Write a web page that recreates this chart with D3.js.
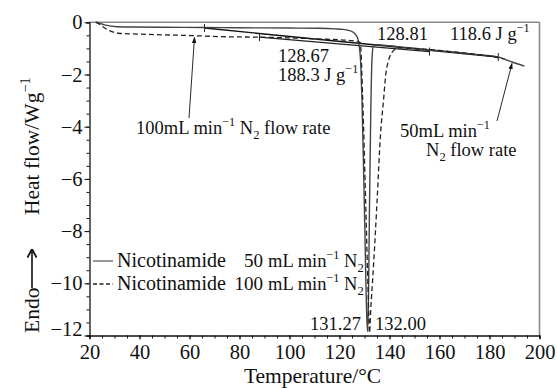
<!DOCTYPE html>
<html><head><meta charset="utf-8">
<script src="https://cdn.jsdelivr.net/npm/d3@7"></script>
<style>
html,body{margin:0;padding:0;background:#fff;}
svg text{font-family:"Liberation Serif","Times New Roman",serif;fill:#111;}
</style></head>
<body><svg id="c" width="557" height="388"></svg>
<script>
// ---- data ----
const xTicks = [20,40,60,80,100,120,140,160,180,200];
const yTicks = [0,-2,-4,-6,-8,-10,-12];
// 50 mL/min N2 (solid)
const solidT = [22.5,23.5,26,31,38,50,66,80,100,112,118,122,124,125.5,126.5,127.3,127.8,128.5,129,130,131,131.27,131.6,132,132.5,133,133.5,135,140,145,155,160,170,177,183.5,189,194];
const solidV = [0,-0.02,-0.1,-0.17,-0.18,-0.19,-0.2,-0.21,-0.22,-0.23,-0.25,-0.28,-0.32,-0.38,-0.48,-0.62,-0.85,-1.6,-3,-7.3,-11.5,-11.85,-10.5,-7,-3.5,-1.4,-0.92,-0.86,-0.9,-0.95,-1.05,-1.09,-1.18,-1.25,-1.33,-1.52,-1.68];
// 100 mL/min N2 (dashed)
const dashT = [22.5,23.5,25,28,31.5,42,61,73,88,100,115,125,128.3,129.3,130.5,131.5,132,132.5,133.5,135,136.4,137.6,138.5,139.5,141,143,145,150,160,170,180,186];
const dashV = [0,-0.04,-0.15,-0.32,-0.42,-0.46,-0.51,-0.55,-0.57,-0.6,-0.65,-0.7,-0.78,-3,-7,-10.5,-11.9,-11,-9.5,-6.9,-4.3,-3,-2.0,-1.5,-1.15,-1.0,-0.98,-1.0,-1.08,-1.18,-1.3,-1.4];
// integration baselines
const base50T = [66,183.5], base50V = [-0.22,-1.33];
const base100T = [88,156], base100V = [-0.57,-1.12];

// ---- chart ----
const svg = d3.select("#c");
const x = d3.scaleLinear().domain([20,200]).range([89.5,539.5]);
const y = d3.scaleLinear().domain([0,-12]).range([22.3,335.5]);

// frame
svg.append("line").attr("x1",x(20)).attr("x2",x(200)).attr("y1",y(0)).attr("y2",y(0)).attr("stroke","#8a8a8a").attr("stroke-width",1.6);
svg.append("line").attr("x1",x(200)).attr("x2",x(200)).attr("y1",y(0)).attr("y2",y(-12)).attr("stroke","#8a8a8a").attr("stroke-width",1.6);

// axes
const xMinor = d3.range(20,201,5);
const yMinor = d3.range(0,-12.01,-0.5);
const gx = svg.append("g").attr("transform",`translate(0,${y(-12)})`);
gx.call(d3.axisBottom(x).tickValues(xMinor).tickSize(3).tickFormat(""));
gx.selectAll(".tick line").attr("stroke","#111");
gx.select(".domain").attr("stroke","#111").attr("stroke-width",1.3);
const gx2 = svg.append("g").attr("transform",`translate(0,${y(-12)})`);
gx2.call(d3.axisBottom(x).tickValues(xTicks).tickSize(4).tickPadding(5).tickFormat(d3.format("d")));
gx2.select(".domain").remove();
gx2.selectAll(".tick line").attr("stroke","#111");
gx2.selectAll("text").attr("font-size",20.5).attr("font-family","Liberation Serif").attr("fill","#111");

const gy = svg.append("g").attr("transform",`translate(${x(20)},0)`);
gy.call(d3.axisLeft(y).tickValues(yMinor).tickSize(3).tickFormat(""));
gy.select(".domain").attr("stroke","#111").attr("stroke-width",1.3);
gy.selectAll(".tick line").attr("stroke","#111");
const gy2 = svg.append("g").attr("transform",`translate(${x(20)},0)`);
gy2.call(d3.axisLeft(y).tickValues(yTicks).tickSize(5).tickPadding(2).tickFormat(d=>d===0?"0":"\u2212"+Math.abs(d)));
gy2.select(".domain").remove();
gy2.selectAll(".tick line").attr("stroke","#111");
gy2.selectAll("text").attr("font-size",20.5).attr("font-family","Liberation Serif").attr("fill","#111")
  .attr("dy",d=>d===-12?"0.02em":"0.32em");

// curves
const line = d3.line().x(d=>x(d[0])).y(d=>y(d[1])).curve(d3.curveMonotoneX);
const lin = d3.line().x(d=>x(d[0])).y(d=>y(d[1]));
svg.append("path").attr("d",lin(d3.zip(base50T,base50V))).attr("fill","none").attr("stroke","#111").attr("stroke-width",1.4);
svg.append("path").attr("d",lin(d3.zip(base100T,base100V))).attr("fill","none").attr("stroke","#222").attr("stroke-width",1.3);
const marks = [[base50T[0],base50V[0]],[base50T[1],base50V[1]],[base100T[0],base100V[0]],[base100T[1],base100V[1]]];
svg.selectAll(".mk").data(marks).enter().append("line")
  .attr("x1",d=>x(d[0])).attr("x2",d=>x(d[0])).attr("y1",d=>y(d[1])-4).attr("y2",d=>y(d[1])+4)
  .attr("stroke","#222").attr("stroke-width",1);
svg.append("path").attr("d",line(d3.zip(solidT,solidV))).attr("fill","none").attr("stroke","#444").attr("stroke-width",1.4);
svg.append("path").attr("d",line(d3.zip(dashT,dashV))).attr("fill","none").attr("stroke","#222").attr("stroke-width",1.3).attr("stroke-dasharray","5,3");

// rich text helper
function rich(parent, px, py, parts, size, anchor){
  const t = parent.append("text").attr("x",px).attr("y",py).attr("font-size",size).attr("text-anchor",anchor||"start");
  let cur = 0;
  parts.forEach(p=>{
    let shift = 0, fs = size;
    if (p.sup){shift=-0.42*size; fs=0.66*size;}
    if (p.sub){shift=0.28*size; fs=0.68*size;}
    t.append("tspan").attr("dy",shift-cur).attr("font-size",fs).text(p.t);
    cur = shift;
  });
  return t;
}

// arrows
const defs = svg.append("defs");
defs.append("marker").attr("id","ah").attr("viewBox","0 0 10 10").attr("refX",9).attr("refY",5)
  .attr("markerWidth",7).attr("markerHeight",7).attr("orient","auto-start-reverse")
  .append("path").attr("d","M0,1.5 L10,5 L0,8.5 Z").attr("fill","#111");
defs.append("marker").attr("id","ah2").attr("viewBox","0 0 10 10").attr("refX",9.5).attr("refY",5)
  .attr("markerWidth",10).attr("markerHeight",10).attr("markerUnits","userSpaceOnUse").attr("orient","auto")
  .append("path").attr("d","M1,0.5 L9.5,5 L1,9.5").attr("fill","none").attr("stroke","#111").attr("stroke-width",1.8);
svg.append("line").attr("x1",189).attr("y1",118).attr("x2",x(62)).attr("y2",y(-0.52)+1.5)
  .attr("stroke","#111").attr("stroke-width",0.9).attr("marker-end","url(#ah)");
svg.append("line").attr("x1",497).attr("y1",121).attr("x2",x(189)).attr("y2",y(-1.52)+1.5)
  .attr("stroke","#111").attr("stroke-width",0.9).attr("marker-end","url(#ah)");

// annotations
rich(svg,136,134,[{t:"100mL min"},{t:"\u22121",sup:true},{t:" N"},{t:"2",sub:true},{t:" flow rate"}],18.5);
rich(svg,400,137,[{t:"50mL min"},{t:"\u22121",sup:true}],18.5);
rich(svg,426,156,[{t:"N"},{t:"2",sub:true},{t:" flow rate"}],18.5);
rich(svg,278,62,[{t:"128.67"}],18.5);
rich(svg,278,81,[{t:"188.3 J g"},{t:"\u22121",sup:true}],18.5);
rich(svg,377,40,[{t:"128.81"}],18.5);
rich(svg,450,40,[{t:"118.6 J g"},{t:"\u22121",sup:true}],18.5);
rich(svg,310,330,[{t:"131.27"}],18.5);
rich(svg,375,330,[{t:"132.00"}],18.5);

// legend
svg.append("line").attr("x1",93).attr("x2",113).attr("y1",261).attr("y2",261).attr("stroke","#555").attr("stroke-width",1.2);
svg.append("line").attr("x1",93).attr("x2",113).attr("y1",284).attr("y2",284).attr("stroke","#222").attr("stroke-width",1.3).attr("stroke-dasharray","4,2.5");
rich(svg,117,267,[{t:"Nicotinamide"}],20);
rich(svg,117,290,[{t:"Nicotinamide"}],20);
rich(svg,263,267,[{t:"50"}],19,"end");
rich(svg,263,290,[{t:"100"}],19,"end");
rich(svg,268,267,[{t:"mL min"},{t:"\u22121",sup:true},{t:" N"},{t:"2",sub:true}],18.5);
rich(svg,268,290,[{t:"mL min"},{t:"\u22121",sup:true},{t:" N"},{t:"2",sub:true}],18.5);

// axis titles
svg.append("text").attr("x",(x(20)+x(200))/2-2).attr("y",383).attr("text-anchor","middle").attr("font-size",21.5).text("Temperature/\u00B0C");
const yl = svg.append("g").attr("transform","translate(39,333) rotate(-90)");
rich(yl,0,0,[{t:"Endo"}],21.5);
yl.append("line").attr("x1",45).attr("x2",84).attr("y1",-7).attr("y2",-7).attr("stroke","#111").attr("stroke-width",1.6).attr("marker-end","url(#ah2)");
rich(yl,118,0,[{t:"Heat flow/Wg"},{t:"\u22121",sup:true}],21.5);
</script></body></html>
